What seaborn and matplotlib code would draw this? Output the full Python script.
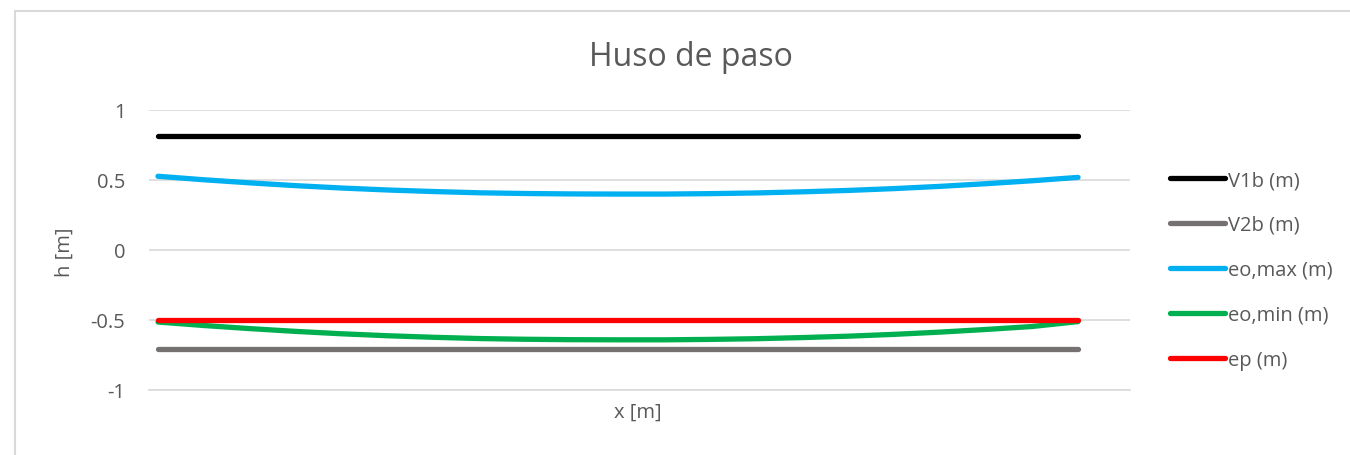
import matplotlib
matplotlib.use("Agg")
import matplotlib.pyplot as plt
import seaborn as sns
import pandas as pd
from matplotlib.lines import Line2D

# puntos a lo largo del vano (sin etiquetas en el eje x)
x_pos = list(range(21))

v1b = [0.81] * 21
v2b = [-0.71] * 21
eo_max = [0.525, 0.500, 0.478, 0.458, 0.441, 0.427, 0.416, 0.407, 0.402, 0.399, 0.398,
          0.398, 0.401, 0.406, 0.414, 0.424, 0.437, 0.453, 0.472, 0.493, 0.517]
eo_min = [-0.515, -0.540, -0.562, -0.582, -0.599, -0.613, -0.624, -0.633, -0.638, -0.641, -0.642,
          -0.642, -0.639, -0.634, -0.626, -0.616, -0.603, -0.587, -0.568, -0.547, -0.512]
ep = [-0.5] * 21

series_names = ["V1b (m)", "V2b (m)", "eo,max (m)", "eo,min (m)", "ep (m)"]
series_vals = [v1b, v2b, eo_max, eo_min, ep]
colors = ["#000000", "#767171", "#00b0f0", "#00b050", "#ff0000"]

rows = []
for name, vals in zip(series_names, series_vals):
    for xi, v in zip(x_pos, vals):
        rows.append({"x": xi, "h": v, "serie": name})
df = pd.DataFrame(rows)

sns.set_style("white")
plt.rcParams['font.family'] = ['Open Sans', 'DejaVu Sans']
txt = "#595959"
grid_c = "#d9d9d9"
fs = 14.5

fig = plt.figure(figsize=(13.5, 4.56), dpi=100)
ax = fig.add_axes([149 / 1350, 1 - 391 / 456, (1130 - 149) / 1350, (391 - 110.7) / 456])

sns.lineplot(data=df, x="x", y="h", hue="serie", palette=dict(zip(series_names, colors)),
             linewidth=3.8, ax=ax, legend=False, solid_capstyle="round")

ax.set_ylim(-1, 1)
ax.set_xlim(-0.196, 21.13)
ax.set_yticks([-1, -0.5, 0, 0.5, 1])
ax.set_yticklabels(["-1", "-0.5", "0", "0.5", "1"])
ax.set_xticks([])
ax.grid(axis="y", color=grid_c, linewidth=1.2)
ax.set_axisbelow(True)
for s in ["top", "right", "left"]:
    ax.spines[s].set_visible(False)
ax.spines["bottom"].set_color(grid_c)
ax.spines["bottom"].set_linewidth(1.2)
ax.tick_params(axis="y", length=0, pad=17, labelsize=fs, labelcolor=txt)
ax.set_xlabel("")
ax.set_ylabel("")

fig.text(638 / 1350, 1 - 413 / 456, "x [m]", ha="center", va="center", fontsize=fs, color=txt)
fig.text(65 / 1350, 1 - 252 / 456, "h [m]", ha="center", va="center", rotation=90, fontsize=fs, color=txt)
fig.text(691 / 1350, 1 - 57 / 456, "Huso de paso", ha="center", va="center", fontsize=23, color=txt)

handles = [Line2D([0], [0], color=c, linewidth=3.8, solid_capstyle="round") for c in colors]
fig.legend(handles, series_names, loc="upper left", bbox_to_anchor=(1170 / 1350, 1 - 171 / 456),
           frameon=False, fontsize=fs, handlelength=2.75, handletextpad=0.15, labelspacing=1.24,
           borderpad=0, borderaxespad=0, labelcolor=txt)

# borde del área del gráfico
fig.add_artist(Line2D([15 / 1350, 15 / 1350], [0, 1 - 12 / 456], color=grid_c, linewidth=1.5))
fig.add_artist(Line2D([15 / 1350, 1], [1 - 12 / 456, 1 - 12 / 456], color=grid_c, linewidth=1.5))

fig.savefig("out.png", dpi=100, facecolor="white")
